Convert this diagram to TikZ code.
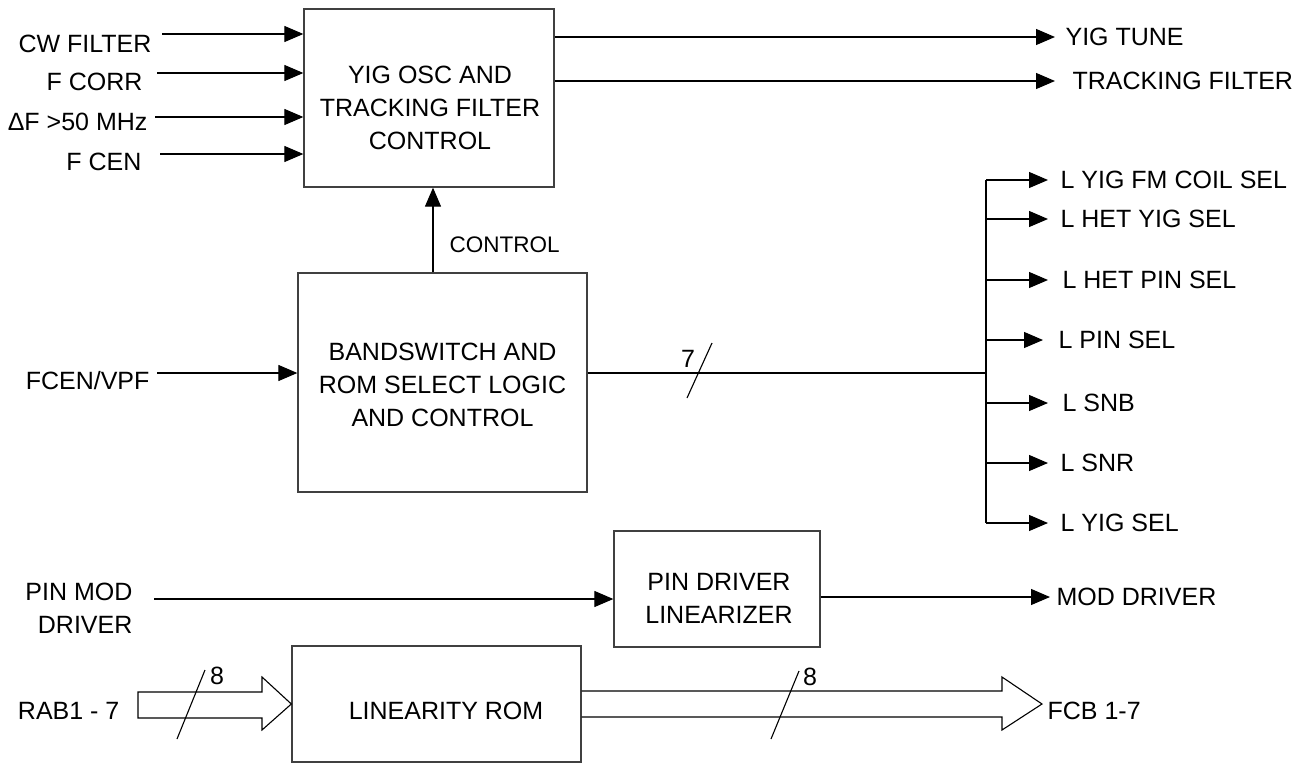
\documentclass[tikz,border=0pt]{standalone}
\usepackage{fontspec}
\setmainfont{Liberation Sans}
\usetikzlibrary{arrows.meta}
\begin{document}
\begin{tikzpicture}[x=1pt,y=-1pt,
  font=\fontsize{25}{33}\selectfont,
  line width=1.2pt,
  blk/.style={draw=black!75, line width=1.3pt, inner sep=0pt},
  btxt/.style={align=center, inner sep=0pt},
  arr/.style={-{Triangle[length=19pt,width=16pt]}},
  llab/.style={anchor=east, inner sep=0pt, align=right},
  rlab/.style={anchor=west, inner ysep=0pt, inner xsep=12pt},
  bus/.style={draw=black, line width=1.1pt, line join=miter},
  tick/.style={line width=1.1pt},
  small/.style={font=\fontsize{22.5}{27}\selectfont}
]
\useasboundingbox (0,0) rectangle (1307,763);

% ---------- blocks ----------
\node[blk, minimum width=250pt, minimum height=178pt] (yig) at (429,98) {};
\node[btxt] (yigt) at (430,107.5) {YIG OSC AND\\TRACKING FILTER\\CONTROL};

\node[blk, minimum width=289pt, minimum height=219pt] (bs) at (442.5,382.5) {};
\node[btxt] (bst) at (442.5,384.5) {BANDSWITCH AND\\ROM SELECT LOGIC\\AND CONTROL};

\node[blk, minimum width=206pt, minimum height=116pt] (pd) at (717,589) {};
\node[btxt] (pdt) at (719,598) {PIN DRIVER\\LINEARIZER};

\node[blk, minimum width=289pt, minimum height=116pt] (lr) at (436.5,704) {};
\node[btxt] (lrt) at (446,711) {LINEARITY ROM};

% ---------- inputs to YIG ----------
\coordinate (i1) at (162,34);
\coordinate (i2) at (157,73);
\coordinate (i3) at (155,117);
\coordinate (i4) at (160,154);
\node[llab] (l1) at (152,44) {CW FILTER};
\node[llab] (l2) at (143,82) {F CORR};
\node[llab] (l3) at (148,122) {ΔF \textgreater50 MHz};
\node[llab] (l4) at (142,162) {F CEN};
\draw[arr] (i1) -- (i1 -| yig.west);
\draw[arr] (i2) -- (i2 -| yig.west);
\draw[arr] (i3) -- (i3 -| yig.west);
\draw[arr] (i4) -- (i4 -| yig.west);

% ---------- outputs of YIG ----------
\node[rlab, inner xsep=10pt] (yt) at (1055,37) {YIG TUNE};
\node[rlab, inner xsep=17pt] (tf) at (1055,81) {TRACKING FILTER};
\draw[arr] (yt.west -| yig.east) -- (yt.west);
\draw[arr] (tf.west -| yig.east) -- (tf.west);

% ---------- control ----------
\draw[arr] (bs.north) ++(-9.5,0) coordinate (cb) -- (cb |- yig.south);
\node[small, anchor=west, inner sep=0pt] (ctl) at (449,245) {CONTROL};

% ---------- FCEN/VPF ----------
\coordinate (fin) at (157,373);
\node[llab] (lf) at (150,381) {FCEN/VPF};
\draw[arr] (fin) -- (fin -| bs.west);

% ---------- bus of 7 ----------
\coordinate (bj) at (986,373);
\draw (bs.east |- bj) -- (bj);
\coordinate (s7a) at (687,398);
\coordinate (s7b) at (712,343);
\draw[tick] (s7a) -- (s7b);
\node[inner sep=0pt] (n7) at (688,359) {7};

\node[rlab] (o1) at (1048,180) {L YIG FM COIL SEL};
\node[rlab] (o2) at (1048,219) {L HET YIG SEL};
\node[rlab, inner xsep=14pt] (o3) at (1048,280) {L HET PIN SEL};
\node[rlab, inner xsep=15pt] (o4) at (1043,340) {L PIN SEL};
\node[rlab, inner xsep=14pt] (o5) at (1048,403) {L SNB};
\node[rlab] (o6) at (1048,463) {L SNR};
\node[rlab] (o7) at (1048,523) {L YIG SEL};
\draw (o1.west -| bj) -- (o7.west -| bj);
\foreach \o in {o1,o2,o3,o4,o5,o6,o7}
  \draw[arr] (\o.west -| bj) -- (\o.west);

% ---------- PIN MOD DRIVER ----------
\coordinate (pin) at (154,599);
\node[llab] (lp) at (133,608) {PIN MOD\\DRIVER};
\draw[arr] (pin) -- (pin -| pd.west);
\node[rlab, inner xsep=6pt] (md) at (1050,597) {MOD DRIVER};
\draw[arr] (md.west -| pd.east) -- (md.west);

% ---------- RAB / FCB buses ----------
\node[llab] (rab) at (120,711) {RAB1 - 7};
\draw[bus] (138,692) -- (262,692) -- (262,677) -- (lr.west |- 0,704)
  -- (262,730) -- (262,718) -- (138,718) -- cycle;
\draw[tick] (177,739) -- (205,670);
\node[inner sep=0pt] (n8a) at (217,676) {8};

\node[anchor=west, inner sep=0pt] (fcb) at (1047,711) {FCB 1-7};
\draw[bus] (lr.east |- 0,691) -- (1002,691) -- (1002,677) -- (1042,704)
  -- (1002,730) -- (1002,717) -- (lr.east |- 0,717);
\draw[tick] (771,739) -- (799,671);
\node[inner sep=0pt] (n8b) at (810,677) {8};
\end{tikzpicture}
\end{document}
